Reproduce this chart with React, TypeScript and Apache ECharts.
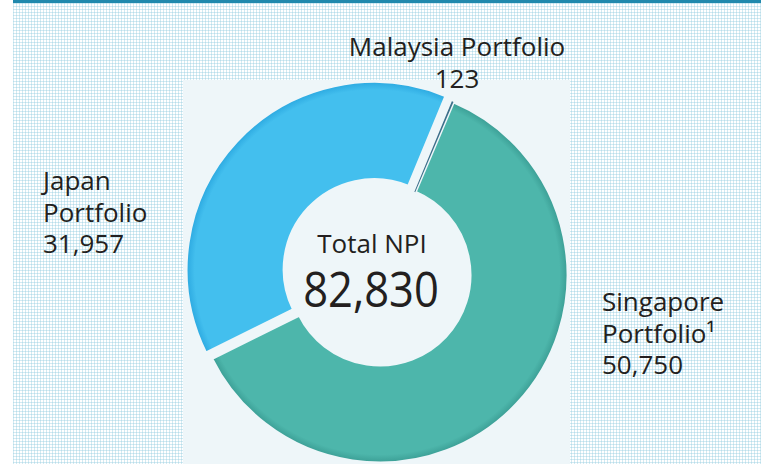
import React, { useEffect, useRef } from "react";
import * as echarts from "echarts";

const categories = ["Singapore Portfolio", "Japan Portfolio", "Malaysia Portfolio"];
const values = [50750, 31957, 123];
const totalLabel = "Total NPI";
const totalValue = values.reduce((a, b) => a + b, 0);

const fmt = (v: number) => v.toLocaleString("en-US");

const FONT = "'Open Sans', 'Noto Sans', sans-serif";
const TXT = "#231f20";

export default function App() {
  const ref = useRef<HTMLDivElement>(null);

  useEffect(() => {
    if (!ref.current) return;
    const chart = echarts.init(ref.current, undefined, { renderer: "svg" });
    const cx = 380;
    const cy = 275;
    const rOut = 188;
    const rIn = 90;

    const grad = (main: string, rim: string) => ({
      type: "radial",
      x: cx,
      y: cy,
      r: rOut,
      global: true,
      colorStops: [
        { offset: 0, color: main },
        { offset: 0.955, color: main },
        { offset: 1, color: rim },
      ],
    });

    const sliceStyles = [
      { color: grad("#4db6ab", "#3a9d94"), borderColor: "#eef6f9", borderWidth: 3 },
      { color: grad("#43bfee", "#2ba8e0"), borderColor: "#eef6f9", borderWidth: 3 },
      { color: "#3d6f8a", borderColor: "#eef6f9", borderWidth: 0 },
    ];

    const block = (
      text: string,
      x: number,
      y: number,
      align: string,
      lineHeight: number,
      size = 26,
      scaleX = 1
    ) => ({
      type: "text",
      x,
      y,
      scaleX,
      z: 10,
      style: {
        text,
        x: 0,
        y: 0,
        fill: TXT,
        font: `500 ${size}px ${FONT}`,
        lineHeight,
        align,
        verticalAlign: "top",
      },
    });

    const [sgName, jpName, myName] = categories;
    const sgParts = sgName.split(" ");
    const jpParts = jpName.split(" ");

    chart.setOption({
      animation: false,
      backgroundColor: "transparent",
      graphic: [
        { type: "rect", z: -10, shape: { x: 13, y: 0, width: 748, height: 3 }, style: { fill: "#2089ad" } },
        { type: "rect", z: -10, shape: { x: 183, y: 80, width: 387, height: 384 }, style: { fill: "#eef6f9" } },
        block(`${myName}\n${fmt(values[2])}`, 457, 30, "center", 32),
        block(`${jpParts[0]}\n${jpParts[1]}\n${fmt(values[1])}`, 43, 164.5, "left", 31.5),
        block(`${sgParts[0]}\n${sgParts[1]}\u00B9\n${fmt(values[0])}`, 602, 285.5, "left", 31.5),
        block(totalLabel, 372, 227, "center", 32),
        block(fmt(totalValue), 371, 260, "center", 56, 50, 0.87),
      ],
      series: [
        {
          type: "pie",
          center: [cx, cy],
          radius: [rIn, rOut],
          startAngle: 67,
          clockwise: true,
          selectedMode: "multiple",
          selectedOffset: 8,
          label: { show: false },
          labelLine: { show: false },
          emphasis: { disabled: true },
          silent: true,
          data: categories.map((name, i) => ({
            name,
            value: values[i],
            selected: i === 1,
            itemStyle: sliceStyles[i],
          })),
        },
      ],
    });
    return () => chart.dispose();
  }, []);

  return (
    <div style={{ position: "absolute", left: 0, top: 0, width: 761, height: 464, background: "#fff", overflow: "hidden" }}>
      <div
        style={{
          position: "absolute",
          left: 13,
          top: 0,
          width: 748,
          height: 464,
          backgroundColor: "#ffffff",
          backgroundImage:
            "linear-gradient(to right, rgba(150,205,225,0.42) 1px, transparent 1px), linear-gradient(to bottom, rgba(150,205,225,0.42) 1px, transparent 1px)",
          backgroundSize: "3px 3px",
        }}
      />
      <div ref={ref} style={{ position: "absolute", left: 0, top: 0, width: 761, height: 464 }} />
    </div>
  );
}
